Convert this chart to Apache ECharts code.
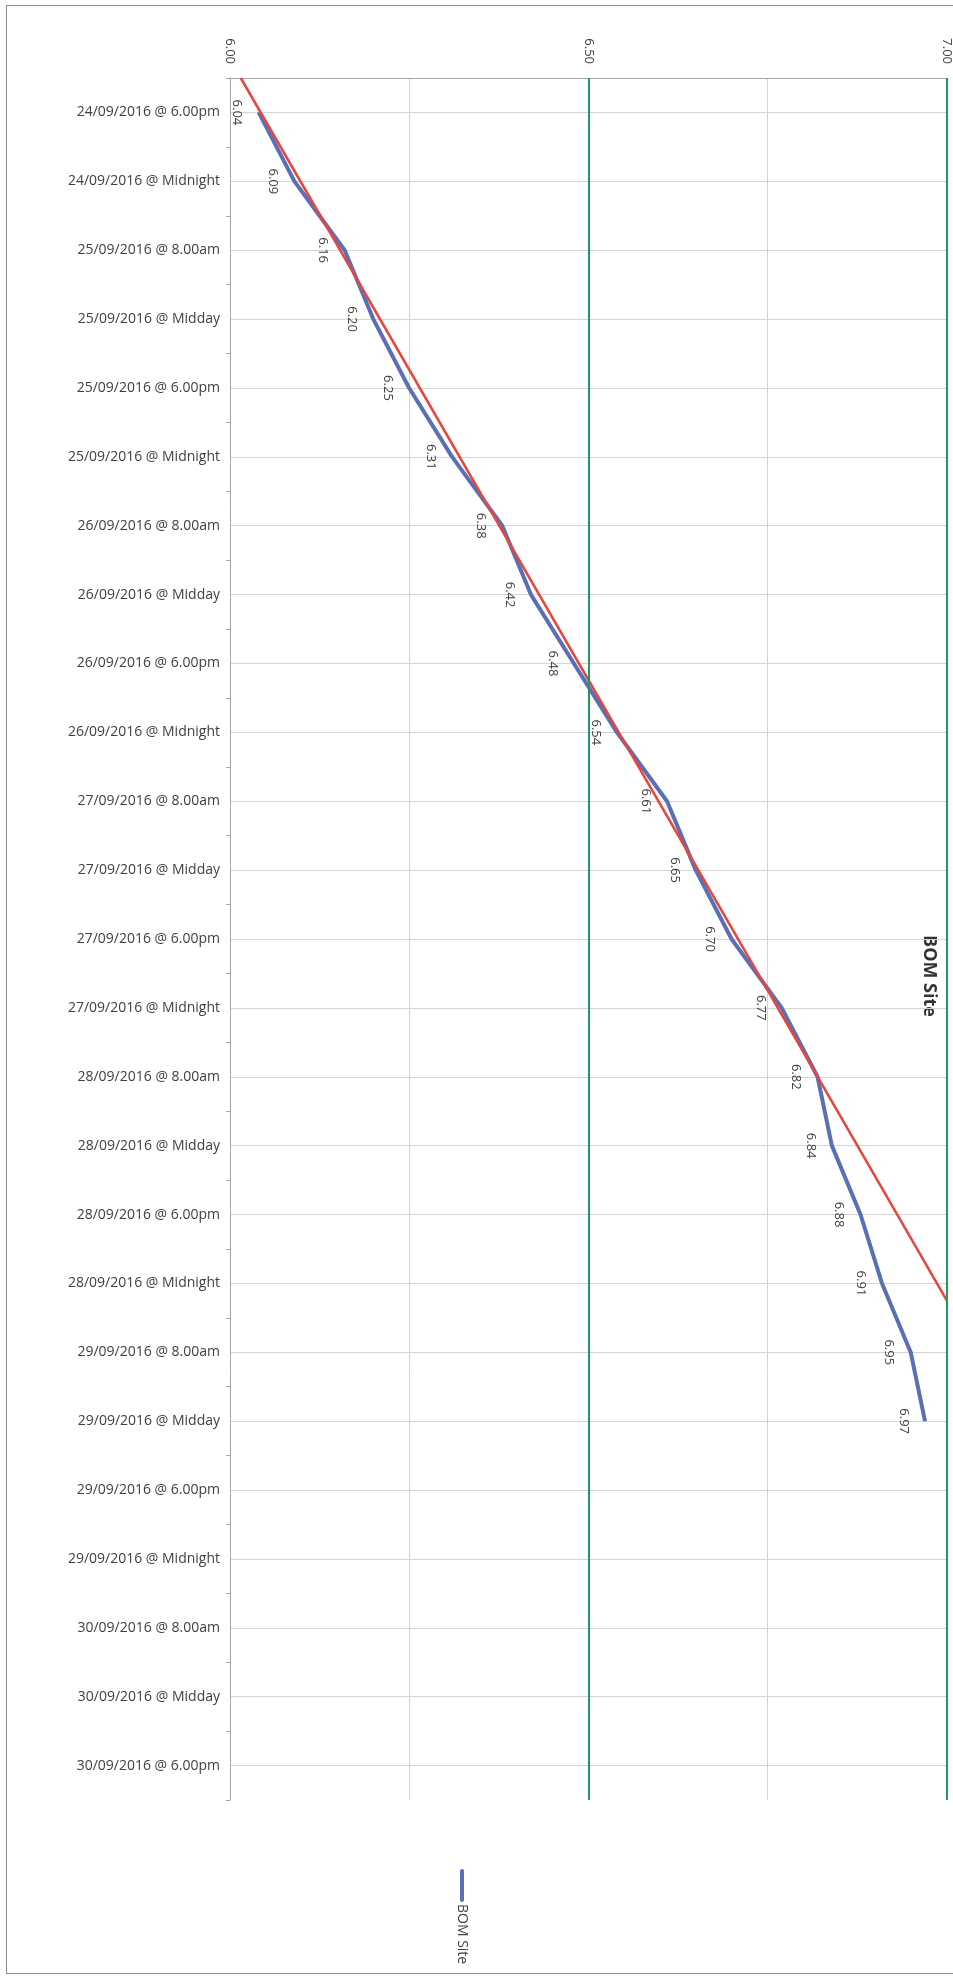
<!DOCTYPE html>
<html><head><meta charset="utf-8">
<script src="https://cdn.jsdelivr.net/npm/echarts@6/dist/echarts.min.js"></script>
<style>
html,body{margin:0;padding:0;background:#fff;}
#frame{position:absolute;left:6px;top:5px;width:960px;height:1969px;border:1px solid #8c8c8c;border-right:none;box-sizing:border-box;}
#chart{position:absolute;left:0;top:0;width:953px;height:1980px;}
</style></head><body>
<div id="frame"></div>
<div id="chart"></div>
<script>
const categories = [
  '24/09/2016 @ 6.00pm','24/09/2016 @ Midnight','25/09/2016 @ 8.00am','25/09/2016 @ Midday',
  '25/09/2016 @ 6.00pm','25/09/2016 @ Midnight','26/09/2016 @ 8.00am','26/09/2016 @ Midday',
  '26/09/2016 @ 6.00pm','26/09/2016 @ Midnight','27/09/2016 @ 8.00am','27/09/2016 @ Midday',
  '27/09/2016 @ 6.00pm','27/09/2016 @ Midnight','28/09/2016 @ 8.00am','28/09/2016 @ Midday',
  '28/09/2016 @ 6.00pm','28/09/2016 @ Midnight','29/09/2016 @ 8.00am','29/09/2016 @ Midday',
  '29/09/2016 @ 6.00pm','29/09/2016 @ Midnight','30/09/2016 @ 8.00am','30/09/2016 @ Midday',
  '30/09/2016 @ 6.00pm'
];
const bomValues = [6.04,6.09,6.16,6.20,6.25,6.31,6.38,6.42,6.48,6.54,6.61,6.65,6.70,6.77,6.82,6.84,6.88,6.91,6.95,6.97];
// linear trend line end points: [value, category position]
const trendPoints = [[6.015,-0.5],[7.07,18.5]];
const thresholds = [6.5, 7.0];
const valueMin = 6.0, valueMax = 7.0, valueStep = 0.25;
const seriesName = 'BOM Site';
const chartTitle = 'BOM Site';

const FONT = '"Open Sans", "Liberation Sans", sans-serif';
const chart = echarts.init(document.getElementById('chart'));
const option = {
  animation: false,
  backgroundColor: 'transparent',
  textStyle: { fontFamily: FONT },
  grid: { left: 230, top: 78, right: 6, bottom: 180, containLabel: false },
  xAxis: {
    type: 'value', position: 'top', min: valueMin, max: valueMax, interval: valueStep,
    axisLine: { show: true, onZero: false, lineStyle: { color: '#a6a6a6', width: 1 } },
    axisTick: { show: false },
    splitLine: { show: true, lineStyle: { color: '#d4d4d4', width: 1 } },
    axisLabel: {
      rotate: 90, margin: 14, fontSize: 13, color: '#404040', fontFamily: FONT,
      formatter: v => (Math.round(v * 100) % 50 === 0 ? v.toFixed(2) : '')
    }
  },
  yAxis: [{
    type: 'category', data: categories, inverse: true, boundaryGap: true,
    axisLine: { show: true, lineStyle: { color: '#a6a6a6' } },
    axisTick: { show: true, length: 4, lineStyle: { color: '#a6a6a6' } },
    splitLine: { show: true, alignWithLabel: true, lineStyle: { color: '#d4d4d4' } },
    axisLabel: { interval: 0, margin: 10, fontSize: 14, color: '#404040', fontFamily: FONT }
  }, {
    type: 'value', show: false, inverse: true, min: -0.5, max: categories.length - 0.5
  }],
  series: [{
    name: seriesName, type: 'line', yAxisIndex: 0, data: bomValues,
    symbol: 'circle', symbolSize: 1, showSymbol: true,
    lineStyle: { color: '#5b6fb6', width: 4 }, itemStyle: { color: '#5b6fb6' },
    label: {
      show: true, position: 'left', distance: 21, rotate: -90, align: 'center', verticalAlign: 'middle',
      fontSize: 13, color: '#404040', fontFamily: FONT, formatter: p => p.value.toFixed(2)
    },
    markLine: {
      silent: true, symbol: 'none', label: { show: false },
      lineStyle: { color: '#1f9a5b', width: 2, type: 'solid' },
      data: thresholds.map(v => ({ xAxis: v }))
    },
    z: 2
  }, {
    name: 'Trend', type: 'line', yAxisIndex: 1, data: trendPoints,
    symbol: 'none', lineStyle: { color: '#e8453c', width: 2.5 }, clip: true, z: 3
  }],
  graphic: [{
    type: 'text', x: 929, y: 976, rotation: -Math.PI / 2,
    style: { text: chartTitle, fontSize: 18, fontWeight: 'bold', fontFamily: FONT, fill: '#333333',
      align: 'center', verticalAlign: 'middle', textAlign: 'center', textVerticalAlign: 'middle' }
  }, {
    type: 'group', x: 462, y: 1871, rotation: -Math.PI / 2,
    children: [{
      type: 'line', shape: { x1: 0, y1: 0, x2: 29, y2: 0 },
      style: { stroke: '#5b6fb6', lineWidth: 4, lineCap: 'round' }
    }, {
      type: 'text', x: 33, y: 0,
      style: { text: seriesName, fontSize: 14, fontFamily: FONT, fill: '#404040',
        align: 'left', verticalAlign: 'middle', textAlign: 'left', textVerticalAlign: 'middle' }
    }]
  }]
};
chart.setOption(option);
</script>
</body></html>
